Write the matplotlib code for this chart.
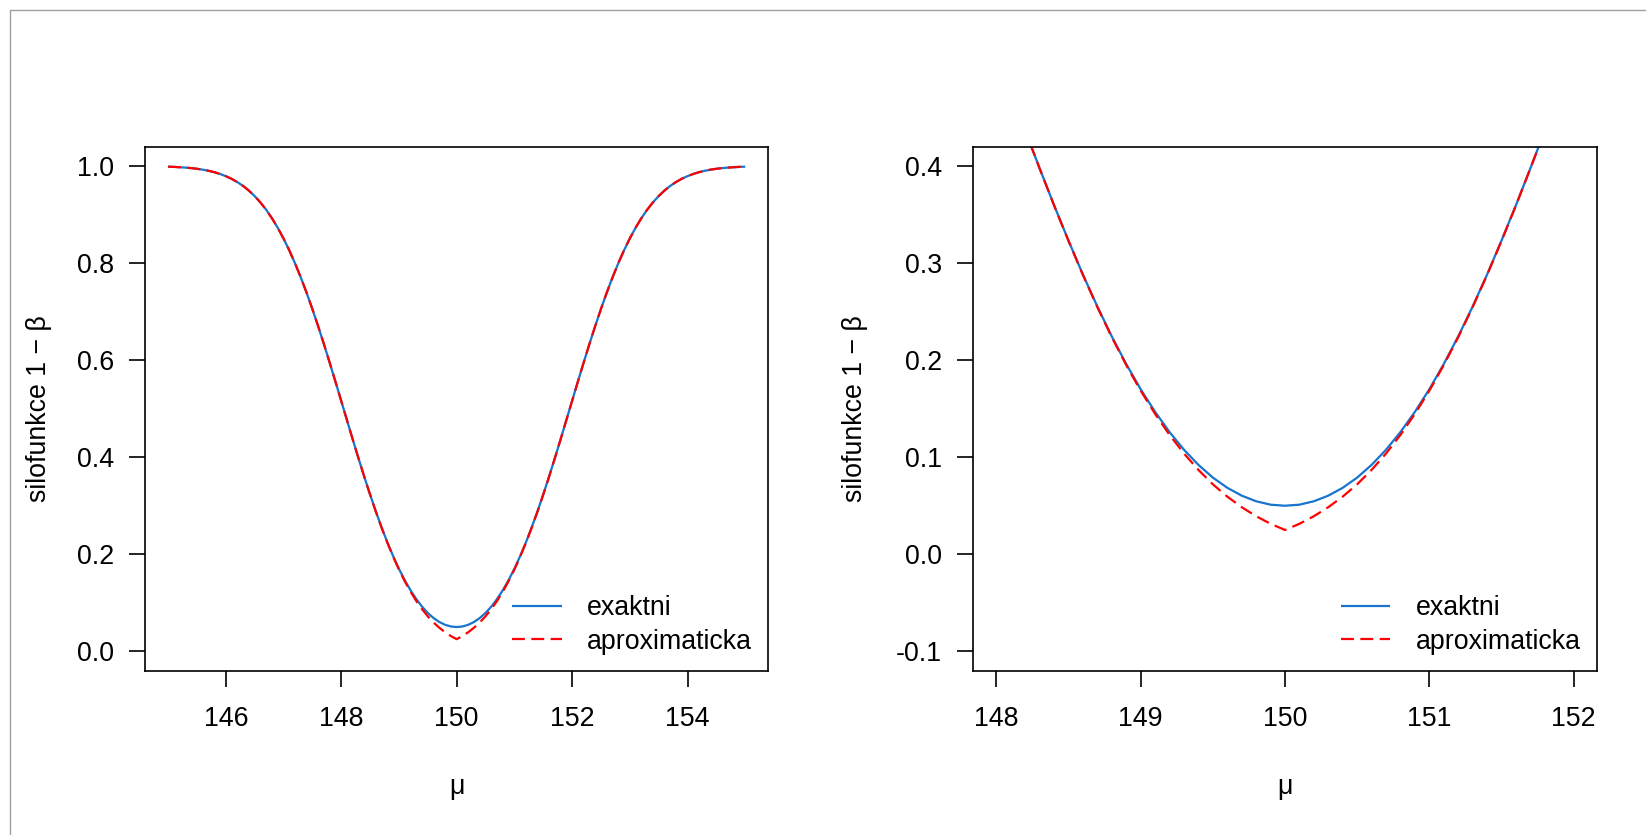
import matplotlib
matplotlib.use("Agg")
import matplotlib.pyplot as plt
from matplotlib.lines import Line2D

plt.rcParams['font.family'] = ['Liberation Sans', 'DejaVu Sans']

# mu grid (step 0.1)
mu = [145.0, 145.1, 145.2, 145.3, 145.4, 145.5, 145.6, 145.7, 145.8, 145.9,
      146.0, 146.1, 146.2, 146.3, 146.4, 146.5, 146.6, 146.7, 146.8, 146.9,
      147.0, 147.1, 147.2, 147.3, 147.4, 147.5, 147.6, 147.7, 147.8, 147.9,
      148.0, 148.1, 148.2, 148.3, 148.4, 148.5, 148.6, 148.7, 148.8, 148.9,
      149.0, 149.1, 149.2, 149.3, 149.4, 149.5, 149.6, 149.7, 149.8, 149.9,
      150.0,
      150.1, 150.2, 150.3, 150.4, 150.5, 150.6, 150.7, 150.8, 150.9, 151.0,
      151.1, 151.2, 151.3, 151.4, 151.5, 151.6, 151.7, 151.8, 151.9, 152.0,
      152.1, 152.2, 152.3, 152.4, 152.5, 152.6, 152.7, 152.8, 152.9, 153.0,
      153.1, 153.2, 153.3, 153.4, 153.5, 153.6, 153.7, 153.8, 153.9, 154.0,
      154.1, 154.2, 154.3, 154.4, 154.5, 154.6, 154.7, 154.8, 154.9, 155.0]

exaktni = [0.9988, 0.9984, 0.9977, 0.9969, 0.9959, 0.9945, 0.9927, 0.9904, 0.9875, 0.9838,
           0.9793, 0.9738, 0.9671, 0.9591, 0.9495, 0.9382, 0.9251, 0.9099, 0.8925, 0.8729,
           0.8508, 0.8264, 0.7995, 0.7704, 0.7389, 0.7054, 0.6700, 0.6331, 0.5948, 0.5557,
           0.5160, 0.4762, 0.4365, 0.3975, 0.3596, 0.3231, 0.2881, 0.2552, 0.2244, 0.1960,
           0.1700, 0.1467, 0.1259, 0.1077, 0.0921, 0.0790, 0.0685, 0.0604, 0.0546, 0.0511,
           0.0500,
           0.0511, 0.0546, 0.0604, 0.0685, 0.0790, 0.0921, 0.1077, 0.1259, 0.1467, 0.1700,
           0.1960, 0.2244, 0.2552, 0.2881, 0.3231, 0.3596, 0.3975, 0.4365, 0.4762, 0.5160,
           0.5557, 0.5948, 0.6331, 0.6700, 0.7054, 0.7389, 0.7704, 0.7995, 0.8264, 0.8508,
           0.8729, 0.8925, 0.9099, 0.9251, 0.9382, 0.9495, 0.9591, 0.9671, 0.9738, 0.9793,
           0.9838, 0.9875, 0.9904, 0.9927, 0.9945, 0.9959, 0.9969, 0.9977, 0.9984, 0.9988]

aproximaticka = [0.9988, 0.9984, 0.9977, 0.9969, 0.9959, 0.9945, 0.9927, 0.9904, 0.9875, 0.9838,
                 0.9793, 0.9738, 0.9671, 0.9591, 0.9495, 0.9382, 0.9251, 0.9099, 0.8925, 0.8729,
                 0.8508, 0.8264, 0.7995, 0.7704, 0.7389, 0.7054, 0.6700, 0.6331, 0.5948, 0.5557,
                 0.5160, 0.4761, 0.4364, 0.3974, 0.3594, 0.3228, 0.2877, 0.2546, 0.2236, 0.1949,
                 0.1685, 0.1446, 0.1230, 0.1038, 0.0869, 0.0721, 0.0594, 0.0485, 0.0392, 0.0314,
                 0.0250,
                 0.0314, 0.0392, 0.0485, 0.0594, 0.0721, 0.0869, 0.1038, 0.1230, 0.1446, 0.1685,
                 0.1949, 0.2236, 0.2546, 0.2877, 0.3228, 0.3594, 0.3974, 0.4364, 0.4761, 0.5160,
                 0.5557, 0.5948, 0.6331, 0.6700, 0.7054, 0.7389, 0.7704, 0.7995, 0.8264, 0.8508,
                 0.8729, 0.8925, 0.9099, 0.9251, 0.9382, 0.9495, 0.9591, 0.9671, 0.9738, 0.9793,
                 0.9838, 0.9875, 0.9904, 0.9927, 0.9945, 0.9959, 0.9969, 0.9977, 0.9984, 0.9988]

series_labels = ["exaktni", "aproximaticka"]
x_label = "μ"
y_label = "silofunkce 1 − β"

left_xticks = [146, 148, 150, 152, 154]
left_yticks = [0.0, 0.2, 0.4, 0.6, 0.8, 1.0]
left_xlim = (145, 155)
left_ylim = (0.0, 1.0)

right_xticks = [148, 149, 150, 151, 152]
right_yticks = [-0.1, 0.0, 0.1, 0.2, 0.3, 0.4]
right_xlim = (148, 152)
right_ylim = (-0.1, 0.4)

W, H = 1646, 835
DPI = 100
fig = plt.figure(figsize=(W / DPI, H / DPI), dpi=DPI)
fig.patch.set_facecolor('white')

# thin grey window frame (top and left)
fig.add_artist(Line2D([9.5 / W, 9.5 / W, 1.0], [0.0, 1 - 10 / H, 1 - 10 / H],
                      transform=fig.transFigure, color='#a0a0a0', lw=1.0))

BLUE = '#1874CD'
RED = '#FF0000'
FS = 19.3


def r_lim(lo, hi):
    ext = (hi - lo) * 0.04
    return lo - ext, hi + ext


def make_panel(rect, xlim, ylim, xticks, yticks, ylab_x):
    ax = fig.add_axes(rect)
    ax.plot(mu, exaktni, color=BLUE, lw=1.6, solid_capstyle='butt', label=series_labels[0])
    ax.plot(mu, aproximaticka, color=RED, lw=1.6, dashes=(5.8, 2.9), label=series_labels[1])
    ax.set_xlim(*r_lim(*xlim))
    ax.set_ylim(*r_lim(*ylim))
    ax.set_xticks(xticks)
    ax.set_xticklabels([str(t) for t in xticks])
    ax.set_yticks(yticks)
    ax.set_yticklabels([f"{t:.1f}" for t in yticks])
    for s in ax.spines.values():
        s.set_linewidth(1.2)
        s.set_color('black')
    ax.tick_params(axis='both', direction='out', length=11.5, width=1.2,
                   labelsize=FS, color='black')
    ax.tick_params(axis='x', pad=14)
    ax.tick_params(axis='y', pad=11)
    ax.set_xlabel(x_label, fontsize=FS)
    ax.set_ylabel(y_label, fontsize=FS)
    ax.xaxis.label.set_va('center')
    ax.yaxis.label.set_va('center')
    ax.xaxis.set_label_coords(0.5, -0.222)
    ax.yaxis.set_label_coords(ylab_x, 0.5)
    ax.legend(loc='lower right', bbox_to_anchor=(1.0, 0.0), frameon=False,
              fontsize=FS, handlelength=1.85, handletextpad=0.95,
              labelspacing=0.27, borderaxespad=0.3, borderpad=0.3)
    return ax


bottom = (H - 670.7) / H
height = (670.7 - 146.7) / H
make_panel([145 / W, bottom, (768.3 - 145) / W, height],
           left_xlim, left_ylim, left_xticks, left_yticks, -0.17)
make_panel([973.3 / W, bottom, (1596.7 - 973.3) / W, height],
           right_xlim, right_ylim, right_xticks, right_yticks, -0.19)

fig.savefig('out.png', dpi=DPI, facecolor='white')
